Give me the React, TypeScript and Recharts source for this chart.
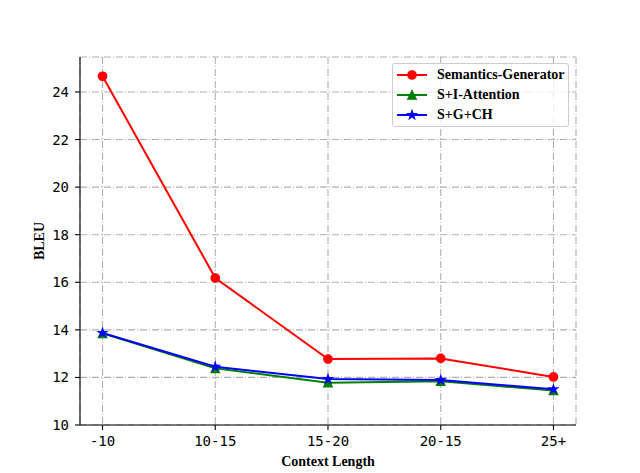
import React from 'react';
import { LineChart, Line, XAxis, YAxis, CartesianGrid, Label } from 'recharts';

const categories = ['-10', '10-15', '15-20', '20-15', '25+'];
const semanticsGenerator = [24.66, 16.18, 12.77, 12.8, 12.02];
const sIAttention = [13.85, 12.38, 11.78, 11.84, 11.45];
const sGCH = [13.87, 12.45, 11.93, 11.89, 11.5];
const yTicks = [10, 12, 14, 16, 18, 20, 22, 24];

const data = categories.map((c, i) => ({
  x: i,
  sem: semanticsGenerator[i],
  sia: sIAttention[i],
  sgch: sGCH[i],
}));

const RED = '#ff0000';
const GREEN = '#008000';
const BLUE = '#0000ff';
const MS = 8.33;

const circlePath = (cx: number, cy: number, r: number) => (
  <circle cx={cx} cy={cy} r={r} fill={RED} stroke={RED} strokeWidth={1.39} />
);
const trianglePts = (cx: number, cy: number) => {
  const h = MS / 2;
  return `${cx},${cy - h} ${cx - h},${cy + h} ${cx + h},${cy + h}`;
};
const starPts = (cx: number, cy: number) => {
  const R = MS / 2;
  const r = R * 0.381966;
  const pts: string[] = [];
  for (let k = 0; k < 10; k++) {
    const ang = -Math.PI / 2 + (k * Math.PI) / 5;
    const rad = k % 2 === 0 ? R : r;
    pts.push(`${cx + rad * Math.cos(ang)},${cy + rad * Math.sin(ang)}`);
  }
  return pts.join(' ');
};

const CircleDot = (p: any) => (
  <g key={`c${p.index}`}>{circlePath(p.cx, p.cy, MS / 2)}</g>
);
const TriDot = (p: any) => (
  <polygon key={`t${p.index}`} points={trianglePts(p.cx, p.cy)} fill={GREEN} stroke={GREEN} strokeWidth={1.39} strokeLinejoin="miter" />
);
const StarDot = (p: any) => (
  <polygon key={`s${p.index}`} points={starPts(p.cx, p.cy)} fill={BLUE} stroke={BLUE} strokeWidth={1.39} strokeLinejoin="miter" />
);

const legendItems = [
  { name: 'Semantics-Generator', color: RED, kind: 'circle' },
  { name: 'S+I-Attention', color: GREEN, kind: 'tri' },
  { name: 'S+G+CH', color: BLUE, kind: 'star' },
];

const LegendBox = () => (
  <div
    style={{
      position: 'absolute',
      left: 392,
      top: 63,
      width: 177,
      height: 64,
      boxSizing: 'border-box',
      border: '1px solid #cccccc',
      borderRadius: 3,
      background: 'rgba(255,255,255,0.8)',
    }}
  >
    {legendItems.map((it, i) => (
      <div key={it.name} style={{ position: 'absolute', left: 4, top: 1 + i * 20, height: 20, display: 'flex', alignItems: 'center' }}>
        <svg width={30} height={20} style={{ display: 'block' }}>
          <line x1={0} y1={10} x2={30} y2={10} stroke={it.color} strokeWidth={2} />
          {it.kind === 'circle' && circlePath(15, 10, MS / 2)}
          {it.kind === 'tri' && <polygon points={trianglePts(15, 10)} fill={it.color} stroke={it.color} strokeWidth={1.39} />}
          {it.kind === 'star' && <polygon points={starPts(15, 10)} fill={it.color} stroke={it.color} strokeWidth={1.39} />}
        </svg>
        <span
          style={{
            marginLeft: 10,
            fontFamily: '"Liberation Serif", "Times New Roman", serif',
            fontWeight: 'bold',
            fontSize: 14,
            color: '#000',
            whiteSpace: 'nowrap',
          }}
        >
          {it.name}
        </span>
      </div>
    ))}
  </div>
);

const tickStyle = { fontFamily: '"DejaVu Sans Mono", monospace', fontSize: 14, fill: '#000' };
const labelStyle = { fontFamily: '"Liberation Serif", "Times New Roman", serif', fontSize: 14, fontWeight: 'bold', fill: '#000' };

export default function App() {
  return (
    <div style={{ position: 'absolute', left: 0, top: 0, width: 640, height: 473, background: '#fff' }}>
      <LineChart width={640} height={473} data={data} margin={{ top: 57, right: 64, left: 0, bottom: 0 }}>
        <CartesianGrid stroke="#b0b0b0" strokeWidth={1.1} strokeDasharray="7 2 1 2" />
        <XAxis
          dataKey="x"
          type="number"
          domain={[-0.2, 4.2]}
          ticks={[0, 1, 2, 3, 4]}
          tickFormatter={(v: number) => categories[v]}
          tick={tickStyle}
          tickLine={{ stroke: '#000', strokeWidth: 1.1 }}
          tickSize={5}
          tickMargin={6}
          axisLine={{ stroke: '#000', strokeWidth: 1.1 }}
          height={48}
          allowDataOverflow
        >
          <Label value="Context Length" position="insideBottom" offset={7} style={labelStyle} />
        </XAxis>
        <XAxis xAxisId="top" orientation="top" type="number" domain={[-0.2, 4.2]} tick={false} tickLine={false} axisLine={{ stroke: '#000', strokeWidth: 1.1 }} height={0} />
        <YAxis
          type="number"
          domain={[10, 25.47]}
          ticks={yTicks}
          tick={tickStyle}
          tickLine={{ stroke: '#000', strokeWidth: 1.1 }}
          tickSize={5}
          tickMargin={6}
          axisLine={{ stroke: '#000', strokeWidth: 1.1 }}
          width={80}
          allowDataOverflow
        >
          <Label value="BLEU" angle={-90} position="insideLeft" offset={39} style={{ ...labelStyle, textAnchor: 'middle' }} />
        </YAxis>
        <YAxis yAxisId="right" orientation="right" domain={[10, 25.47]} tick={false} tickLine={false} axisLine={{ stroke: '#000', strokeWidth: 1.1 }} width={0} />
        <Line dataKey="sem" stroke={RED} strokeWidth={2} dot={CircleDot} activeDot={false} isAnimationActive={false} />
        <Line dataKey="sia" stroke={GREEN} strokeWidth={2} dot={TriDot} activeDot={false} isAnimationActive={false} />
        <Line dataKey="sgch" stroke={BLUE} strokeWidth={2} dot={StarDot} activeDot={false} isAnimationActive={false} />
      </LineChart>
      <LegendBox />
    </div>
  );
}
